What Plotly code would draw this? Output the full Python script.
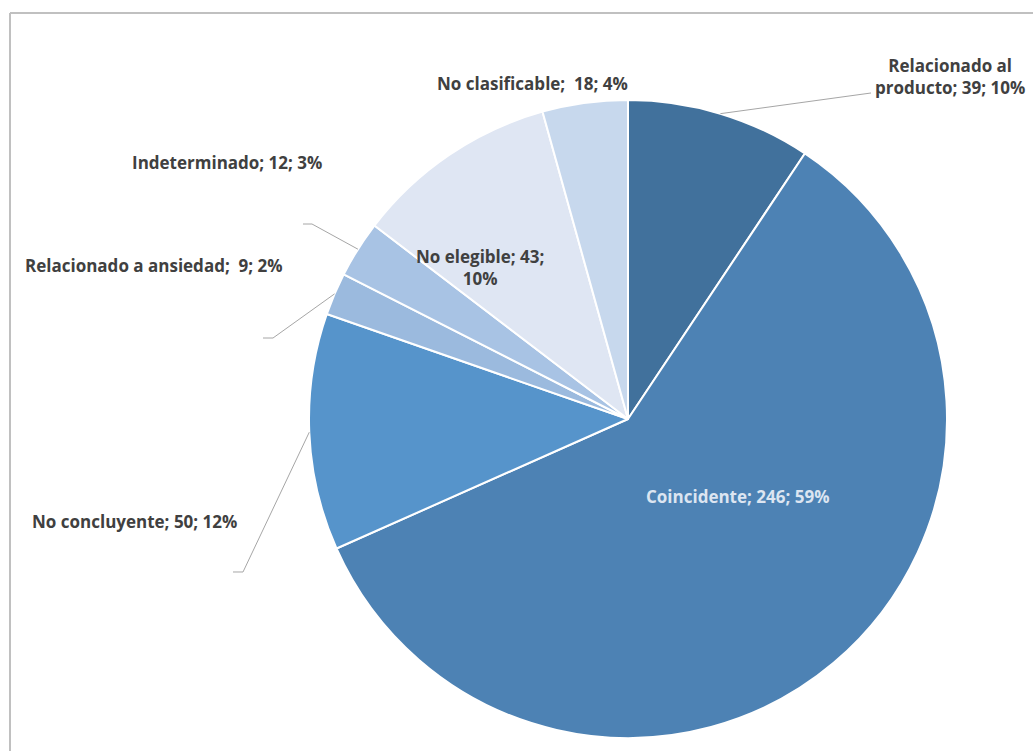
import math
import plotly.graph_objects as go

# Case classification counts
categories = [
    "Relacionado al producto",
    "Coincidente",
    "No concluyente",
    "Relacionado a ansiedad",
    "Indeterminado",
    "No elegible",
    "No clasificable",
]
counts = [39, 246, 50, 9, 12, 43, 18]
pct_labels = ["10%", "59%", "12%", "2%", "3%", "10%", "4%"]
colors = ["#41719c", "#4d82b4", "#5694cb", "#9bbade", "#a8c3e4", "#dfe6f3", "#c7d8ed"]

W, H = 1033, 751
CX, CY, R = 628, 419, 319  # pie centre and radius in pixels


def px(x):
    return x / W


def py(y):
    return 1 - y / H


fig = go.Figure(
    go.Pie(
        labels=categories,
        values=counts,
        sort=False,
        direction="clockwise",
        rotation=0,
        marker=dict(colors=colors, line=dict(color="white", width=2)),
        textinfo="none",
        hoverinfo="label+value+percent",
        showlegend=False,
        domain=dict(x=[px(CX - R), px(CX + R)], y=[py(CY + R), py(CY - R)]),
    )
)


def edge_point(i):
    """Point on the rim at the middle of slice i (clockwise from 12 o'clock)."""
    total = sum(counts)
    mid = (sum(counts[:i]) + counts[i] / 2) / total
    ang = 2 * math.pi * mid
    return CX + R * math.sin(ang), CY - R * math.cos(ang)


# label text, centre position (px) and leader-line path after the rim point
label_specs = {
    0: dict(text=f"Relacionado al<br>producto; {counts[0]}; {pct_labels[0]}", pos=(950, 76), leader=[(871, 93)]),
    1: dict(text=f"Coincidente; {counts[1]}; {pct_labels[1]}", pos=(738, 496), leader=None, color="#dce5f1"),
    2: dict(text=f"No concluyente; {counts[2]}; {pct_labels[2]}", pos=(134, 521), leader=[(243, 572), (233, 572)]),
    3: dict(text=f"Relacionado a ansiedad;  {counts[3]}; {pct_labels[3]}", pos=(154, 265), leader=[(273, 338), (263, 338)]),
    4: dict(text=f"Indeterminado; {counts[4]}; {pct_labels[4]}", pos=(227, 162), leader=[(312, 224), (303, 224)]),
    5: dict(text=f"No elegible; {counts[5]};<br>{pct_labels[5]}", pos=(480, 267), leader=None),
    6: dict(text=f"No clasificable;  {counts[6]}; {pct_labels[6]}", pos=(532, 83), leader=None),
}

shapes = []
annotations = []
for i, spec in label_specs.items():
    if spec["leader"]:
        pts = [edge_point(i)] + spec["leader"]
        path = "M " + " L ".join(f"{px(x):.5f},{py(y):.5f}" for x, y in pts)
        shapes.append(dict(type="path", xref="paper", yref="paper", path=path,
                           line=dict(color="#a6a6a6", width=1)))
    annotations.append(dict(
        x=px(spec["pos"][0]), y=py(spec["pos"][1]), xref="paper", yref="paper",
        text=spec["text"], showarrow=False, align="center",
        xanchor="center", yanchor="middle",
        font=dict(family="Open Sans", size=17, color=spec.get("color", "#404040"), weight="bold"),
    ))

# chart frame (top and left edges visible)
shapes.append(dict(type="line", xref="paper", yref="paper", x0=px(10), x1=1.02, y0=py(13), y1=py(13),
                   line=dict(color="#c0c0c0", width=2)))
shapes.append(dict(type="line", xref="paper", yref="paper", x0=px(10), x1=px(10), y0=py(13), y1=-0.02,
                   line=dict(color="#c0c0c0", width=2)))

fig.update_layout(
    width=W,
    height=H,
    margin=dict(l=0, r=0, t=0, b=0),
    paper_bgcolor="white",
    plot_bgcolor="white",
    shapes=shapes,
    annotations=annotations,
)

fig.write_html("out.html")
